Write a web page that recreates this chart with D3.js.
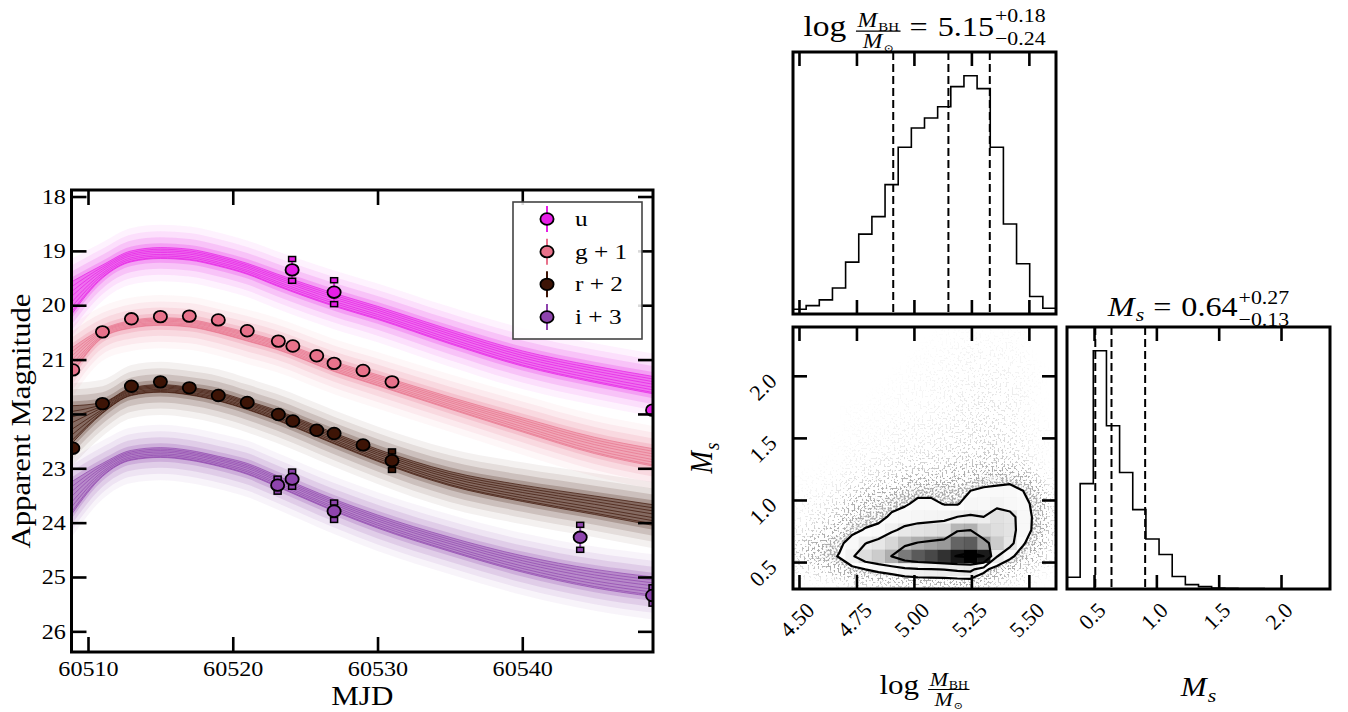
<!DOCTYPE html>
<html><head><meta charset="utf-8">
<script src="https://cdn.jsdelivr.net/npm/d3@7"></script>
<style>
body{margin:0;background:#fff;}
svg{display:block;}
text{font-family:"Liberation Serif","DejaVu Serif",serif;fill:#000;}
</style></head><body>
<svg id="c" width="1348" height="712"></svg>
<script>
// ===================== DATA =====================
// ---- light-curve panel ----
const mjdRange = [60508.86, 60549.03];
const magRange = [17.88, 26.38];
const mjdTicks = [60510, 60520, 60530, 60540];
const magTicks = [18, 19, 20, 21, 22, 23, 24, 25, 26];

// model (posterior median) curves and line-bundle half widths
const modelMJD = [60508.86, 60511, 60513, 60515, 60517, 60519, 60521, 60523, 60527, 60530, 60535, 60540, 60545, 60549.03];
const modelU  = [19.87, 19.38, 19.10, 19.04, 19.07, 19.18, 19.33, 19.53, 19.90, 20.14, 20.58, 20.98, 21.27, 21.47];
const modelG1 = [21.04, 20.52, 20.35, 20.30, 20.33, 20.44, 20.58, 20.73, 21.13, 21.38, 21.80, 22.20, 22.58, 22.80];
const modelR2 = [22.20, 21.89, 21.59, 21.53, 21.58, 21.68, 21.84, 22.02, 22.45, 22.76, 23.19, 23.46, 23.68, 23.86];
const modelI3 = [23.55, 23.03, 22.76, 22.71, 22.76, 22.87, 23.01, 23.23, 23.68, 23.98, 24.40, 24.76, 25.03, 25.18];
const spreadU  = [0.30, 0.12, 0.10, 0.10, 0.10, 0.10, 0.10, 0.11, 0.12, 0.12, 0.13, 0.14, 0.15, 0.16];
const spreadG1 = [0.25, 0.08, 0.07, 0.07, 0.07, 0.07, 0.08, 0.08, 0.09, 0.10, 0.11, 0.13, 0.15, 0.16];
const spreadR2 = [0.35, 0.10, 0.07, 0.07, 0.07, 0.08, 0.08, 0.09, 0.10, 0.11, 0.13, 0.15, 0.17, 0.19];
const spreadI3 = [0.30, 0.12, 0.09, 0.09, 0.09, 0.09, 0.10, 0.10, 0.11, 0.12, 0.13, 0.15, 0.17, 0.18];

// observations
const obsU_mjd = [60524.1, 60527.0, 60549.0];
const obsU_mag = [19.35, 19.76, 21.93];
const obsU_err = [0.20, 0.22, 0.10];
const obsG_mjd = [60508.95, 60511, 60513, 60515, 60517, 60519, 60521, 60523.15, 60524.15, 60525.8, 60527, 60529, 60531];
const obsG_mag = [21.19, 20.49, 20.25, 20.21, 20.20, 20.27, 20.47, 20.66, 20.75, 20.93, 21.07, 21.20, 21.41];
const obsG_err = [0.04, 0.04, 0.04, 0.04, 0.04, 0.04, 0.04, 0.04, 0.04, 0.05, 0.05, 0.05, 0.06];
const obsR_mjd = [60508.95, 60511, 60513, 60515, 60517, 60519, 60521, 60523.15, 60524.15, 60525.8, 60527, 60529, 60531];
const obsR_mag = [22.63, 21.81, 21.49, 21.41, 21.52, 21.66, 21.79, 22.01, 22.13, 22.30, 22.36, 22.57, 22.86];
const obsR_err = [0.05, 0.04, 0.04, 0.04, 0.04, 0.04, 0.04, 0.05, 0.05, 0.05, 0.08, 0.06, 0.17];
const obsI_mjd = [60523.1, 60524.1, 60527.0, 60544.0, 60549.0];
const obsI_mag = [23.31, 23.20, 23.79, 24.27, 25.34];
const obsI_err = [0.12, 0.14, 0.16, 0.23, 0.15];

const legendLabels = ["u", "g + 1", "r + 2", "i + 3"];
const bandColors = ["#e61ee6", "#e8728b", "#3d1406", "#8e44ad"];

// ---- corner plot ----
const lmRange = [4.474, 5.618];           // log M_BH/M_sun axis range (20 bins)
const msRange = [0.283, 2.393];           // M_s axis range (20 bins)
const lmTicks = [4.50, 4.75, 5.00, 5.25, 5.50];
const msTicks = [0.5, 1.0, 1.5, 2.0];
const histLogM = [14, 25, 42, 77, 154, 237, 289, 384, 495, 552, 582, 615, 675, 707, 669, 495, 267, 149, 52, 17];
const histMs   = [35, 312, 705, 483, 345, 235, 148, 102, 37, 13, 7, 3, 2, 1, 1, 0, 0, 0, 0, 0];
const quantLogM = [4.91, 5.15, 5.33];
const quantMs   = [0.51, 0.64, 0.91];
const contourLevels = [0.118, 0.393, 0.675, 0.865];
// 2-D histogram: rows = M_s bins (bottom -> top), columns = log M bins (left -> right)
const hist2d = [
 [1,1,2,4,9,14,17,18,23,26,27,28,31,33,20,10,5,3,1,0],
 [6,11,18,33,65,100,122,148,191,213,224,237,260,272,130,50,30,14,5,2],
 [19,35,58,107,213,328,401,503,648,723,762,805,858,898,850,240,120,57,20,7],
 [14,24,41,74,148,228,278,355,457,510,538,568,700,720,567,400,280,110,40,11],
 [6,12,19,36,71,109,134,207,267,298,314,332,480,500,361,324,300,150,70,13],
 [3,6,10,18,36,55,67,118,152,170,179,189,234,245,232,310,290,150,75,11],
 [2,4,6,12,24,36,45,67,86,125,125,95,90,160,150,191,150,130,70,8],
 [1,2,3,6,12,18,22,37,48,70,70,59,60,100,120,133,140,100,40,6],
 [1,1,2,3,6,9,11,15,19,21,22,24,31,33,45,48,60,30,12,3],
 [0,0,1,1,3,5,6,7,10,11,11,12,16,17,18,18,14,11,4,1],
 [0,0,0,1,2,3,3,4,6,6,7,8,10,11,12,12,9,6,2,1],
 [0,0,0,1,1,2,2,3,4,4,5,6,7,8,9,9,7,5,2,1],
 [0,0,0,0,1,1,1,3,3,4,4,5,6,7,8,8,6,4,2,1],
 [0,0,0,0,1,1,1,1,2,2,3,4,5,6,7,7,5,3,1,0],
 [0,0,0,0,0,0,1,1,2,2,2,3,4,5,6,6,5,3,1,0],
 [0,0,0,0,0,0,0,1,1,2,2,3,3,4,5,5,4,2,1,0],
 [0,0,0,0,0,0,0,0,1,1,2,2,3,3,4,4,3,2,1,0],
 [0,0,0,0,0,0,0,0,0,1,1,2,2,3,3,3,2,2,0,0],
 [0,0,0,0,0,0,0,0,0,0,1,1,2,2,2,2,2,1,0,0],
 [0,0,0,0,0,0,0,0,0,0,0,1,1,1,1,1,1,1,0,0]
];

// ===================== DRAWING =====================
const svg = d3.select("#c");
const SX = 1.15; // horizontal text stretch seen in the reference
function tx(parent, x, y, str, size, o = {}) {
  const sx = (o.sx === undefined) ? SX : o.sx;
  const t = parent.append("text")
    .attr("transform", `translate(${x},${y}) scale(${sx},1)` + (o.rot ? ` rotate(${o.rot})` : ""))
    .attr("font-size", size)
    .attr("text-anchor", o.anchor || "start")
    .text(str);
  if (o.italic) t.attr("font-style", "italic");
  if (o.base) t.attr("dominant-baseline", o.base);
  if (o.family) t.attr("font-family", o.family);
  return t;
}
function wd(t, sx = SX) { return t.node().getComputedTextLength() * sx; }
function styleAxis(sel, fontSize, showText) {
  sel.select(".domain").remove();
  sel.attr("font-family", null).attr("font-size", null);
  sel.selectAll(".tick line").attr("stroke", "#000").attr("stroke-width", 2.6);
  if (showText) sel.selectAll(".tick text").attr("font-size", fontSize).attr("fill", "#000")
      .attr("transform", `scale(${SX},1)`);
  else sel.selectAll(".tick text").remove();
}

// ---------- LEFT PANEL ----------
const L = {x0: 71.5, x1: 653, y0: 190, y1: 652};
const xL = d3.scaleLinear().domain(mjdRange).range([L.x0, L.x1]);
const yL = d3.scaleLinear().domain(magRange).range([L.y0, L.y1]);
const defs = svg.append("defs");
defs.append("clipPath").attr("id", "clipL").append("rect")
  .attr("x", L.x0).attr("y", L.y0).attr("width", L.x1 - L.x0).attr("height", L.y1 - L.y0);

const bands = [
  {color: bandColors[0], med: modelU,  spr: spreadU,  mjd: obsU_mjd, mag: obsU_mag, err: obsU_err},
  {color: bandColors[1], med: modelG1, spr: spreadG1, mjd: obsG_mjd, mag: obsG_mag, err: obsG_err},
  {color: bandColors[2], med: modelR2, spr: spreadR2, mjd: obsR_mjd, mag: obsR_mag, err: obsR_err},
  {color: bandColors[3], med: modelI3, spr: spreadI3, mjd: obsI_mjd, mag: obsI_mag, err: obsI_err}
];
const gL = svg.append("g").attr("clip-path", "url(#clipL)");
bands.forEach(b => {
  const pts = modelMJD.map((t, k) => ({t, m: b.med[k], s: b.spr[k]}));
  const area = pad => d3.area().curve(d3.curveMonotoneX)
    .x(d => xL(d.t)).y0(d => yL(d.m - d.s - pad)).y1(d => yL(d.m + d.s + pad));
  [[0.42, 0.06], [0.30, 0.09], [0.19, 0.14], [0.08, 0.22], [0, 0.35]].forEach(([pad, op]) => {
    gL.append("path").attr("d", area(pad)(pts)).attr("fill", b.color).attr("fill-opacity", op);
  });
  [-1, -0.7, -0.4, -0.1, 0.25, 0.55, 0.85, 1].forEach(f => {
    const ln = d3.line().curve(d3.curveMonotoneX).x(d => xL(d.t)).y(d => yL(d.m + f * d.s));
    gL.append("path").attr("d", ln(pts)).attr("fill", "none").attr("stroke", b.color)
      .attr("stroke-width", 0.8).attr("stroke-opacity", 0.85);
  });
});
bands.forEach(b => {
  const obs = b.mjd.map((t, k) => ({t, m: b.mag[k], e: b.err[k]}));
  const g = gL.append("g");
  g.selectAll("line.eb").data(obs).join("line")
    .attr("x1", d => xL(d.t)).attr("x2", d => xL(d.t))
    .attr("y1", d => yL(d.m - d.e)).attr("y2", d => yL(d.m + d.e))
    .attr("stroke", b.color).attr("stroke-width", 2);
  const caps = obs.filter(d => yL(d.m + d.e) - yL(d.m - d.e) > 13)
    .flatMap(d => [d.m - d.e, d.m + d.e].map(v => ({t: d.t, v})));
  g.selectAll("rect.cap").data(caps).join("rect")
    .attr("x", d => xL(d.t) - 3.5).attr("y", d => yL(d.v) - 2.5).attr("width", 7).attr("height", 5)
    .attr("fill", b.color).attr("stroke", "#000").attr("stroke-width", 1.5);
  g.selectAll("ellipse").data(obs).join("ellipse")
    .attr("cx", d => xL(d.t)).attr("cy", d => yL(d.m)).attr("rx", 6.6).attr("ry", 5.8)
    .attr("fill", b.color).attr("stroke", "#000").attr("stroke-width", 1.8);
});

// axes
const axLB = svg.append("g").attr("transform", `translate(0,${L.y1})`)
  .call(d3.axisBottom(xL).tickValues(mjdTicks).tickSize(-15).tickPadding(9).tickFormat(d3.format("d")));
styleAxis(axLB, 21, true);
const axLT = svg.append("g").attr("transform", `translate(0,${L.y0})`)
  .call(d3.axisTop(xL).tickValues(mjdTicks).tickSize(-15));
styleAxis(axLT, 0, false);
const axLL = svg.append("g").attr("transform", `translate(${L.x0},0)`)
  .call(d3.axisLeft(yL).tickValues(magTicks).tickSize(-15).tickPadding(5).tickFormat(d3.format("d")));
styleAxis(axLL, 21, true);
const axLR = svg.append("g").attr("transform", `translate(${L.x1},0)`)
  .call(d3.axisRight(yL).tickValues(magTicks).tickSize(-15));
styleAxis(axLR, 0, false);
svg.append("rect").attr("x", L.x0).attr("y", L.y0).attr("width", L.x1 - L.x0).attr("height", L.y1 - L.y0)
  .attr("fill", "none").attr("stroke", "#000").attr("stroke-width", 3);
tx(svg, (L.x0 + L.x1) / 2, 705, "MJD", 27, {anchor: "middle"});
svg.append("text").attr("transform", `translate(30,${(L.y0 + L.y1) / 2}) scale(${SX},1) rotate(-90)`)
  .attr("text-anchor", "middle").attr("font-size", 24).attr("textLength", 255)
  .attr("lengthAdjust", "spacingAndGlyphs").text("Apparent Magnitude");

// legend
const LG = {x: 513, y: 202, w: 129, h: 137};
svg.append("rect").attr("x", LG.x).attr("y", LG.y).attr("width", LG.w).attr("height", LG.h)
  .attr("fill", "#fff").attr("fill-opacity", 0.85).attr("stroke", "#444").attr("stroke-width", 1.6);
const legY = d3.scalePoint().domain(legendLabels).range([219, 317]);
legendLabels.forEach((lab, k) => {
  const yy = legY(lab);
  svg.append("line").attr("x1", 547).attr("x2", 547).attr("y1", yy - 13).attr("y2", yy + 13)
    .attr("stroke", bandColors[k]).attr("stroke-width", 2);
  svg.append("ellipse").attr("cx", 547).attr("cy", yy).attr("rx", 6.6).attr("ry", 5.8)
    .attr("fill", bandColors[k]).attr("stroke", "#000").attr("stroke-width", 1.8);
  tx(svg, 575, yy + 7, lab, 22);
});

// ---------- CORNER PLOT ----------
const CX = {a0: 793, a1: 1056, b0: 1067, b1: 1330};
const CY = {a0: 52, a1: 314, b0: 327, b1: 589};
const xLM = d3.scaleLinear().domain(lmRange).range([CX.a0, CX.a1]);
const xMS = d3.scaleLinear().domain(msRange).range([CX.b0, CX.b1]);
const yMS = d3.scaleLinear().domain(msRange).range([CY.b1, CY.b0]);
const nb = 20;
const lmEdges = d3.range(nb + 1).map(k => lmRange[0] + k * (lmRange[1] - lmRange[0]) / nb);
const msEdges = d3.range(nb + 1).map(k => msRange[0] + k * (msRange[1] - msRange[0]) / nb);

function stepHist(g, counts, edges, xs, ys) {
  const pts = [[xs(edges[0]), ys(0)]];
  counts.forEach((c, k) => { pts.push([xs(edges[k]), ys(c)]); pts.push([xs(edges[k + 1]), ys(c)]); });
  pts.push([xs(edges[edges.length - 1]), ys(0)]);
  g.append("path").attr("d", d3.line()(pts)).attr("fill", "none").attr("stroke", "#000").attr("stroke-width", 1.6);
}
function frame(x0, x1, y0, y1) {
  svg.append("rect").attr("x", x0).attr("y", y0).attr("width", x1 - x0).attr("height", y1 - y0)
    .attr("fill", "none").attr("stroke", "#000").attr("stroke-width", 3);
}
function clip(id, x0, x1, y0, y1) {
  defs.append("clipPath").attr("id", id).append("rect").attr("x", x0).attr("y", y0)
    .attr("width", x1 - x0).attr("height", y1 - y0);
}
function ticksX(scale, vals, yTop, yBot) {
  styleAxis(svg.append("g").attr("transform", `translate(0,${yBot})`)
    .call(d3.axisBottom(scale).tickValues(vals).tickSize(-14)), 0, false);
  styleAxis(svg.append("g").attr("transform", `translate(0,${yTop})`)
    .call(d3.axisTop(scale).tickValues(vals).tickSize(-14)), 0, false);
}

// top histogram: log M
const yH1 = d3.scaleLinear().domain([0, 1.1 * d3.max(histLogM)]).range([CY.a1, CY.a0]);
clip("clipA", CX.a0, CX.a1, CY.a0, CY.a1);
const gA = svg.append("g").attr("clip-path", "url(#clipA)");
stepHist(gA, histLogM, lmEdges, xLM, yH1);
gA.selectAll("line.q").data(quantLogM).join("line")
  .attr("x1", d => xLM(d)).attr("x2", d => xLM(d)).attr("y1", CY.a0).attr("y2", CY.a1)
  .attr("stroke", "#000").attr("stroke-width", 2).attr("stroke-dasharray", "8,4");
ticksX(xLM, lmTicks, CY.a0, CY.a1);
frame(CX.a0, CX.a1, CY.a0, CY.a1);

// right histogram: M_s
const yH2 = d3.scaleLinear().domain([0, 1.1 * d3.max(histMs)]).range([CY.b1, CY.b0]);
clip("clipD", CX.b0, CX.b1, CY.b0, CY.b1);
const gD = svg.append("g").attr("clip-path", "url(#clipD)");
stepHist(gD, histMs, msEdges, xMS, yH2);
gD.selectAll("line.q").data(quantMs).join("line")
  .attr("x1", d => xMS(d)).attr("x2", d => xMS(d)).attr("y1", CY.b0).attr("y2", CY.b1)
  .attr("stroke", "#000").attr("stroke-width", 2).attr("stroke-dasharray", "8,4");
ticksX(xMS, msTicks, CY.b0, CY.b1);
frame(CX.b0, CX.b1, CY.b0, CY.b1);

// 2-D panel
clip("clipC", CX.a0, CX.a1, CY.b0, CY.b1);
const gC = svg.append("g").attr("clip-path", "url(#clipC)");
const cells = [];
hist2d.forEach((row, j) => row.forEach((v, i) => cells.push({i, j, v})));
const hmax = d3.max(cells, d => d.v);
// contour thresholds enclosing the requested probability mass
const sortedV = cells.map(d => d.v).sort((a, b) => b - a);
const tot = d3.sum(sortedV);
let acc = 0;
const cumV = sortedV.map(v => (acc += v) / tot);
const V = contourLevels.map(l => { const k = cumV.findIndex(c => c > l); return sortedV[Math.max(0, k - 1)]; })
  .sort(d3.ascending);
const flat = cells.map(d => d.v);
const conts = d3.contours().size([nb, nb]).thresholds(V)(flat);
const lmBin = (lmRange[1] - lmRange[0]) / nb, msBin = (msRange[1] - msRange[0]) / nb;
const gridPath = d3.geoPath(d3.geoTransform({
  point: function (px, py) { this.stream.point(xLM(lmRange[0] + px * lmBin), yMS(msRange[0] + py * msBin)); }
}));
// scatter of samples: density of the 2-D histogram rendered as a grainy point cloud
const sp = defs.append("filter").attr("id", "speckle").attr("filterUnits", "userSpaceOnUse")
  .attr("x", CX.a0).attr("y", CY.b0).attr("width", CX.a1 - CX.a0).attr("height", CY.b1 - CY.b0)
  .attr("color-interpolation-filters", "sRGB");
sp.append("feGaussianBlur").attr("in", "SourceGraphic").attr("stdDeviation", 5).attr("result", "dens");
sp.append("feTurbulence").attr("type", "fractalNoise").attr("baseFrequency", 0.5).attr("numOctaves", 1)
  .attr("seed", 4).attr("result", "noise");
sp.append("feColorMatrix").attr("in", "noise").attr("type", "matrix")
  .attr("values", "0 0 0 0 0  0 0 0 0 0  0 0 0 0 0  5 0 0 0 -2").attr("result", "nA");
sp.append("feComposite").attr("in", "dens").attr("in2", "nA").attr("operator", "arithmetic")
  .attr("k1", 0).attr("k2", 2.5).attr("k3", 2.5).attr("k4", -2.5).attr("result", "dots");
sp.append("feColorMatrix").attr("in", "dots").attr("type", "matrix")
  .attr("values", "0 0 0 0 0.45  0 0 0 0 0.45  0 0 0 0 0.45  0 0 0 0.6 0");
const gS = gC.append("g").attr("filter", "url(#speckle)");
gS.selectAll("rect").data(cells.filter(d => d.v > 0)).join("rect")
  .attr("x", d => xLM(lmEdges[d.i])).attr("y", d => yMS(msEdges[d.j + 1]))
  .attr("width", d => xLM(lmEdges[d.i + 1]) - xLM(lmEdges[d.i]) + 0.3)
  .attr("height", d => yMS(msEdges[d.j]) - yMS(msEdges[d.j + 1]) + 0.3)
  .attr("fill", "#000").attr("fill-opacity", d => 0.75 * (1 - Math.exp(-d.v / 35)));
// white mask inside the outer contour
gC.append("path").attr("d", gridPath(conts[0])).attr("fill", "#fff");
// density cells
gC.selectAll("rect.dens").data(cells.filter(d => d.v / hmax > 0.02)).join("rect")
  .attr("x", d => xLM(lmEdges[d.i])).attr("y", d => yMS(msEdges[d.j + 1]))
  .attr("width", d => xLM(lmEdges[d.i + 1]) - xLM(lmEdges[d.i]) + 0.3)
  .attr("height", d => yMS(msEdges[d.j]) - yMS(msEdges[d.j + 1]) + 0.3)
  .attr("fill", d => { const f = d.v / hmax; const c = Math.round(255 * (1 - f)); return `rgb(${c},${c},${c})`; })
  .attr("fill-opacity", d => d.v / hmax);
// contour lines
gC.selectAll("path.cl").data(conts).join("path")
  .attr("d", gridPath).attr("fill", "none").attr("stroke", "#000").attr("stroke-width", 2.2)
  .attr("stroke-linejoin", "round");
ticksX(xLM, lmTicks, CY.b0, CY.b1);
styleAxis(svg.append("g").attr("transform", `translate(${CX.a0},0)`)
  .call(d3.axisLeft(yMS).tickValues(msTicks).tickSize(-14)), 0, false);
styleAxis(svg.append("g").attr("transform", `translate(${CX.a1},0)`)
  .call(d3.axisRight(yMS).tickValues(msTicks).tickSize(-14)), 0, false);
frame(CX.a0, CX.a1, CY.b0, CY.b1);

// rotated tick labels
function rotLabelX(scale, vals, fmt) {
  vals.forEach(v => {
    const t = svg.append("text").attr("font-size", 22).attr("text-anchor", "middle")
      .attr("dominant-baseline", "central").text(fmt(v));
    const half = (t.node().getComputedTextLength() + 15) / (2 * Math.SQRT2);
    t.attr("transform", `translate(${scale(v) - 2},${601 + half}) rotate(-45)`);
  });
}
rotLabelX(xLM, lmTicks, d3.format(".2f"));
rotLabelX(xMS, msTicks, d3.format(".1f"));
msTicks.forEach(v => {
  const t = svg.append("text").attr("font-size", 22).attr("text-anchor", "middle")
    .attr("dominant-baseline", "central").text(d3.format(".1f")(v));
  const half = (t.node().getComputedTextLength() + 15) / (2 * Math.SQRT2);
  t.attr("transform", `translate(${778 - half},${yMS(v) + 11}) rotate(-45)`);
});

// math labels
function fracMBH(p, x, base, k) {
  const gN = p.append("g"), gDn = p.append("g");
  const m1 = tx(gN, 0, 0, "M", 19 * k, {italic: true}); const wm1 = wd(m1);
  const s1 = tx(gN, wm1 + 1, 3 * k, "BH", 12 * k); const wn = wm1 + 1 + wd(s1);
  const m2 = tx(gDn, 0, 0, "M", 19 * k, {italic: true}); const wm2 = wd(m2);
  const s2 = tx(gDn, wm2 + 1, 3 * k, "\u2299", 10 * k, {family: "'DejaVu Sans',sans-serif"}); const wdn = wm2 + 1 + wd(s2);
  const W = Math.max(wn, wdn) + 3 * k;
  gN.attr("transform", `translate(${x + (W - wn) / 2},${base - 8 * k})`);
  gDn.attr("transform", `translate(${x + (W - wdn) / 2},${base + 11.5 * k})`);
  p.append("line").attr("x1", x).attr("x2", x + W).attr("y1", base - 4.5 * k).attr("y2", base - 4.5 * k)
    .attr("stroke", "#000").attr("stroke-width", 1.1 * k);
  return W;
}
function logLabel(p, x, base, k) {
  let c = x;
  c += wd(tx(p, c, base, "log", 27 * k)) + 9 * k;
  c += fracMBH(p, c, base, k);
  return c - x;
}
function centerGroup(g, width, cx) { g.attr("transform", `translate(${cx - width / 2},0)`); }

// title 1
const T1 = svg.append("g");
{
  const base = 36; let c = 0;
  c += logLabel(T1, c, base, 1.08) + 9;
  c += wd(tx(T1, c, base, "=", 28)) + 10;
  c += wd(tx(T1, c, base, "5.15", 28)) + 1;
  const a = wd(tx(T1, c, base - 14, "+0.18", 19)), b = wd(tx(T1, c, base + 9, "\u22120.24", 19));
  c += Math.max(a, b);
  centerGroup(T1, c, (CX.a0 + CX.a1) / 2);
}
// title 2
const T2 = svg.append("g");
{
  const base = 316; let c = 0;
  c += wd(tx(T2, c, base, "M", 28, {italic: true})) + 1;
  c += wd(tx(T2, c, base + 5, "s", 19, {italic: true})) + 9;
  c += wd(tx(T2, c, base, "=", 28)) + 10;
  c += wd(tx(T2, c, base, "0.64", 28)) + 1;
  const a = wd(tx(T2, c, base - 12, "+0.27", 19)), b = wd(tx(T2, c, base + 10, "\u22120.13", 19));
  c += Math.max(a, b);
  centerGroup(T2, c, (CX.b0 + CX.b1) / 2);
}
// x labels
const XL1 = svg.append("g");
centerGroup(XL1, logLabel(XL1, 0, 694, 1), (CX.a0 + CX.a1) / 2);
const XL2 = svg.append("g");
{
  let c = 0;
  c += wd(tx(XL2, c, 696, "M", 27, {italic: true})) + 1;
  c += wd(tx(XL2, c, 702, "s", 19, {italic: true}));
  centerGroup(XL2, c, (CX.b0 + CX.b1) / 2);
}
// y label (rotated)
const YL = svg.append("g").attr("transform", `translate(712,${(CY.b0 + CY.b1) / 2}) scale(${SX},1) rotate(-90)`);
{
  const gi = YL.append("g");
  let c = 0;
  c += wd(tx(gi, c, 0, "M", 27, {italic: true, sx: 1}), 1) + 1;
  c += wd(tx(gi, c, 6, "s", 19, {italic: true, sx: 1}), 1);
  gi.attr("transform", `translate(${-c / 2},0)`);
}
</script>
</body></html>
